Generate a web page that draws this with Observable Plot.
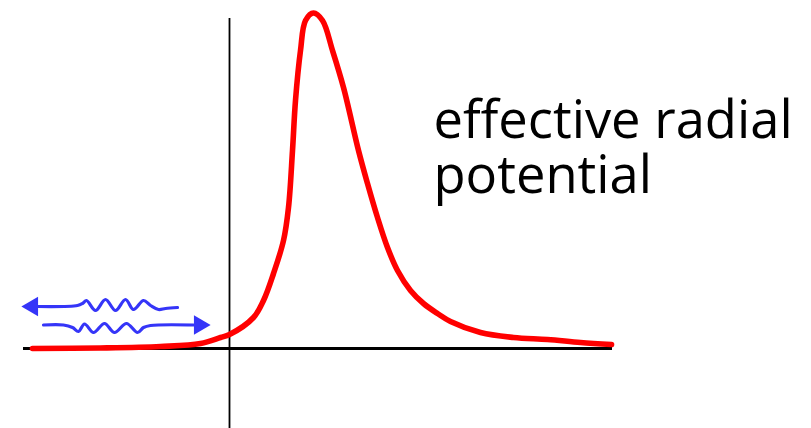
<!DOCTYPE html>
<html>
<head>
<meta charset="utf-8">
<script src="https://cdn.jsdelivr.net/npm/d3@7"></script>
<script src="https://cdn.jsdelivr.net/npm/@observablehq/plot@0.6"></script>
<style>
  html, body { margin: 0; padding: 0; background: #fff; }
</style>
</head>
<body>
<div id="chart"></div>
<script>
// Effective radial potential: r along x (origin at the vertical axis), V along y.
const potentialR = [-197, -129, -69, -29, -9, 0, 24, 34, 44, 54, 59, 63, 66, 71, 76, 84, 93, 103, 114, 129, 138, 148, 158, 168, 181, 194, 208, 221, 251, 284, 318, 351, 382];
const potentialV = [0, 0.5, 2, 5, 11, 14, 31, 48, 75, 108, 141, 198, 248, 298, 328, 335.5, 328, 298, 261, 198, 165, 131, 101, 78, 58, 45, 35, 27, 16, 11, 9, 6, 4];

// Outgoing wave (travelling left) and incoming wave (travelling right).
const outWaveR = [-192, -152, -147, -143, -134, -124, -114, -104, -96, -86, -79, -71, -64, -52];
const outWaveV = [42, 43, 45, 48, 38, 49, 38, 49, 39, 48, 43, 39, 40, 41];
const inWaveR = [-186, -166, -157, -151, -145, -136, -125, -115, -103, -92, -86, -79, -36];
const inWaveV = [23.5, 23.5, 21, 17, 24.5, 16, 25, 16, 25, 16, 21, 23, 23.5];

// Arrow heads: position, direction.
const headR = [-197, -30];
const headV = [42, 23.5];
const headAngle = [-90, 90];

// Two-line label; the last line's baseline sits at labelV.
const labelLines = ["effective radial", "potential"];
const labelR = 204;
const labelV = 156;

const zip = (xs, ys) => xs.map((x, i) => ({x, y: ys[i]}));
const potential = zip(potentialR, potentialV);
const outWave = zip(outWaveR, outWaveV);
const inWave = zip(inWaveR, inWaveV);
const heads = headR.map((x, i) => ({x, y: headV[i], a: headAngle[i]}));
const label = [{t: labelLines.join("\n"), x: labelR, y: labelV}];

const blue = "#3535f8";

const chart = Plot.plot({
  width: 811,
  height: 428,
  margin: 0,
  x: {domain: [-229, 582], axis: null},
  y: {domain: [-80, 348], axis: null},
  marks: [
    Plot.ruleX([0], {y1: -80, y2: 330, stroke: "#000", strokeWidth: 1.8}),
    Plot.ruleY([0], {x1: -206, x2: 383, stroke: "#000", strokeWidth: 3}),
    Plot.line(potential, {x: "x", y: "y", curve: "catmull-rom", stroke: "#ff0000", strokeWidth: 5.6, strokeLinecap: "round"}),
    Plot.line(outWave, {x: "x", y: "y", curve: "catmull-rom", stroke: blue, strokeWidth: 3.2, strokeLinecap: "round"}),
    Plot.line(inWave, {x: "x", y: "y", curve: "catmull-rom", stroke: blue, strokeWidth: 3.2, strokeLinecap: "round"}),
    Plot.dot(heads, {x: "x", y: "y", rotate: "a", symbol: "triangle2", r: 9.2, fill: blue, stroke: "none"}),
    Plot.text(label, {x: "x", y: "y", text: "t", textAnchor: "start", lineAnchor: "bottom", lineHeight: 1.03, fontSize: 52.5, fontFamily: "Open Sans", fill: "#000"})
  ]
});
document.getElementById("chart").appendChild(chart);
</script>
</body>
</html>
